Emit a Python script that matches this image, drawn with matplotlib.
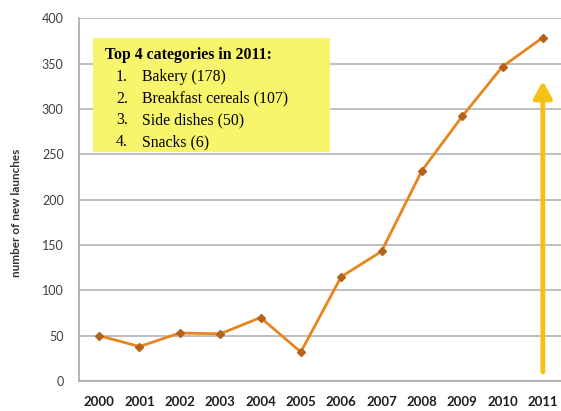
import matplotlib
matplotlib.use("Agg")
import matplotlib.pyplot as plt
from matplotlib.patches import Rectangle

# data
years = ["2000", "2001", "2002", "2003", "2004", "2005",
         "2006", "2007", "2008", "2009", "2010", "2011"]
launches = [50, 38, 53, 52, 70, 32, 115, 143, 232, 292, 347, 379]
yticks = [0, 50, 100, 150, 200, 250, 300, 350, 400]

box_title = "Top 4 categories in 2011:"
box_items = ["Bakery (178)", "Breakfast cereals (107)", "Side dishes (50)", "Snacks (6)"]

fig = plt.figure(figsize=(5.61, 4.11), dpi=100)
ax = fig.add_axes([0.1408, 0.073, 0.8628, 0.882])

x = list(range(len(years)))
ax.plot(x, launches, color="#E8851F", lw=2, zorder=4)
ax.plot(x, launches, ls="none", marker="D", ms=4, color="#B5621A", zorder=5)

ax.set_xlim(-0.5, len(years) - 0.5)
ax.set_ylim(0, 400)
ax.set_yticks(yticks)
ax.set_xticks(x)
ax.set_xticklabels(years, fontfamily="Lato", fontweight="bold", fontsize=9.5, color="#1e1e1e")
ax.set_yticklabels([str(v) for v in yticks], fontfamily="Lato", fontsize=9, color="#404040")
ax.tick_params(axis="x", length=0, pad=11)
ax.tick_params(axis="y", length=0, pad=11)

ax.grid(axis="y", color="#b4b4b4", lw=1.2, zorder=1)
ax.set_axisbelow(True)
for s in ["top", "right"]:
    ax.spines[s].set_visible(False)
for s in ["left", "bottom"]:
    ax.spines[s].set_color("#a8a8a8")
    ax.spines[s].set_linewidth(1.2)

W, H = 561.0, 411.0
fig.text(17 / W, 1 - 213 / H, "number of new launches", rotation=90,
         fontfamily="Lato", fontweight="bold", fontsize=8.5, color="#333333",
         ha="center", va="center")

# yellow callout box
fig.patches.append(Rectangle((93 / W, 1 - 152 / H), (330 - 93) / W, (152 - 38) / H,
                             transform=fig.transFigure, facecolor="#F8F56C",
                             edgecolor="none", zorder=2))
fig.text(105 / W, 1 - 55 / H, box_title, fontfamily="Liberation Serif",
         fontweight="bold", fontsize=11.4, va="center", ha="left", zorder=3)
for i, item in enumerate(box_items):
    yy = 1 - (77 + 21.7 * i) / H
    fig.text(116 / W, yy, f"{i + 1}.", fontfamily="Liberation Serif",
             fontsize=11.3, va="center", ha="left", zorder=3)
    fig.text(142 / W, yy, item, fontfamily="Liberation Serif",
             fontsize=11.3, va="center", ha="left", zorder=3)

# gold arrow at 2011
ax.annotate("", xy=(11, 331), xytext=(11, 10),
            arrowprops=dict(arrowstyle="-|>,head_width=0.55,head_length=1.0",
                            color="#F5C214", lw=3.5, shrinkA=0, shrinkB=0),
            zorder=6)

fig.savefig("out.png", dpi=100)
